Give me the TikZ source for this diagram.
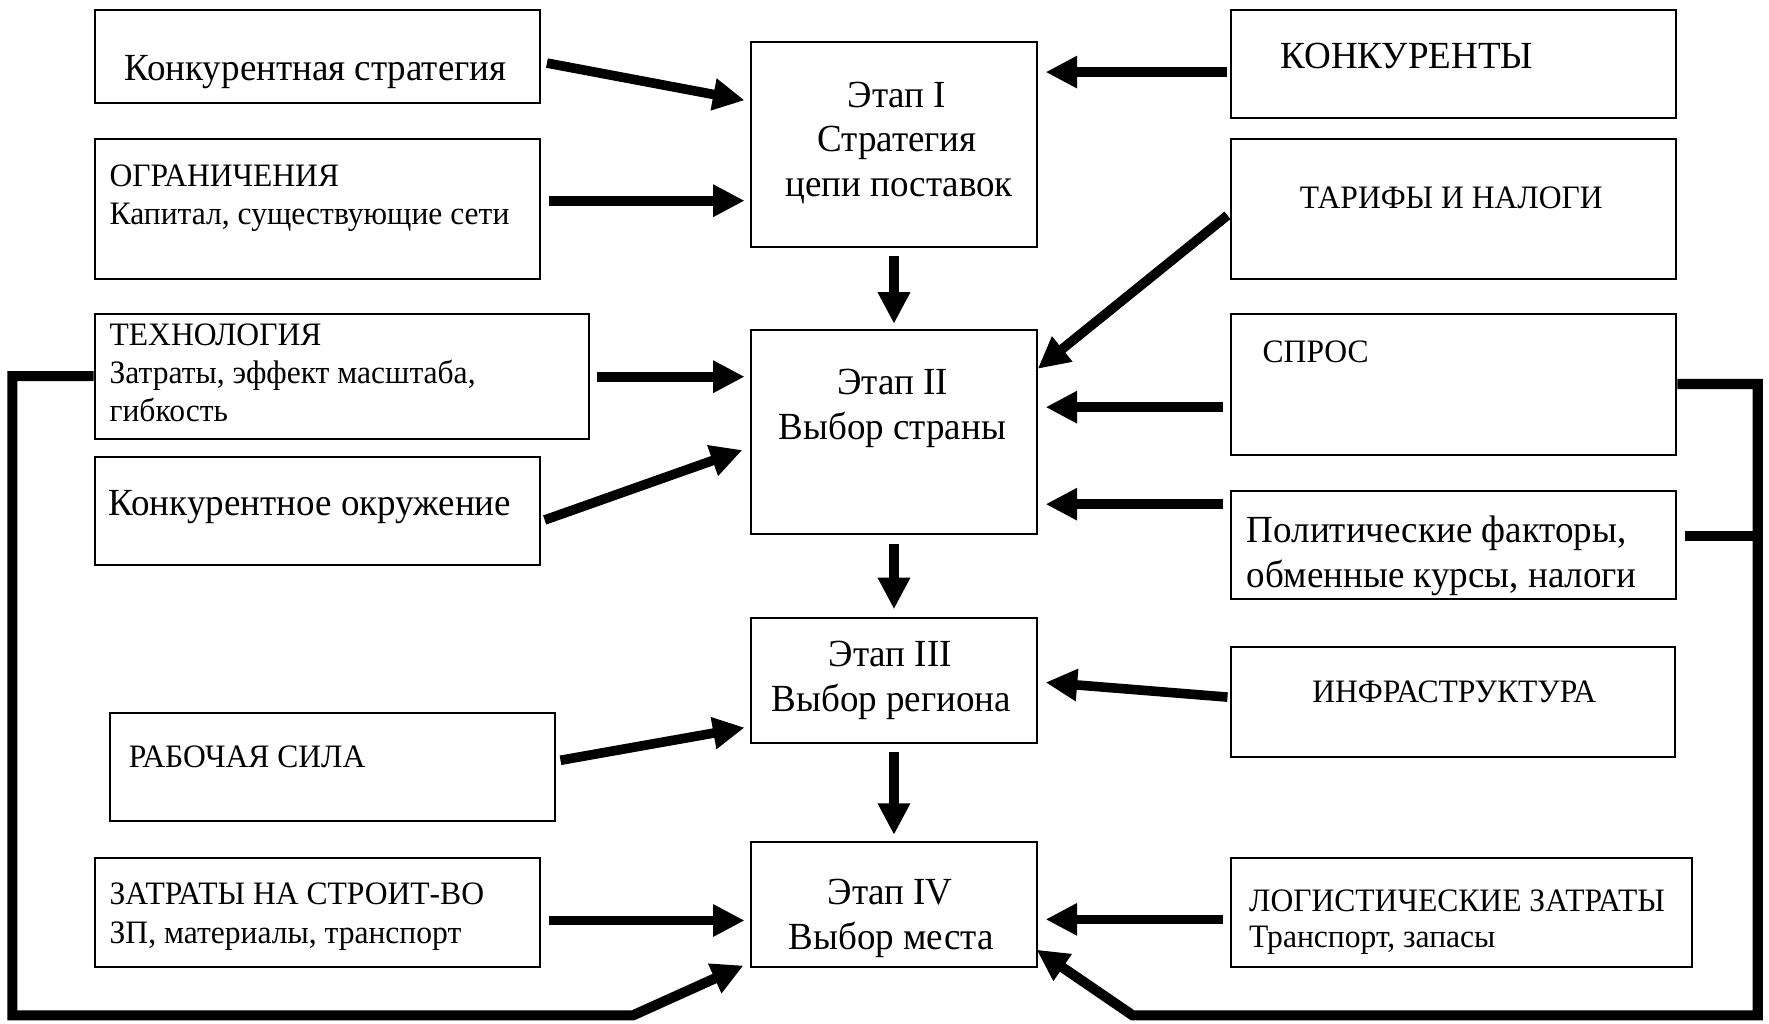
\documentclass[tikz,border=0pt]{standalone}
\usepackage{fontspec}
\setmainfont{Liberation Serif}[FakeStretch=0.965]
\usetikzlibrary{arrows.meta,calc}
\newcommand\Lf{\fontsize{34}{40}\selectfont}
\newcommand\Sf{\fontsize{29}{34}\selectfont}
\begin{document}
\begin{tikzpicture}[x=1pt,y=-1pt,
  box/.style={draw, line width=1.8pt, inner sep=0pt, anchor=north west},
  lt/.style={inner sep=0pt, anchor=base west},
  ct/.style={inner sep=0pt, anchor=base},
  arr/.style={line width=8.5pt, -{Triangle[length=28pt,width=27pt]}},
  fb/.style={line width=9pt, line join=miter, -{Triangle[length=28pt,width=27pt]}},
  fl/.style={line width=9pt, line join=miter}]
\useasboundingbox (0,0) rectangle (1568,907);
% left boxes
\node[box, minimum width=395pt, minimum height=82pt] (K1) at (83,8) {};
\node[box, minimum width=395pt, minimum height=124pt] (K2) at (83,122) {};
\node[box, minimum width=438pt, minimum height=111pt] (K3) at (83,277) {};
\node[box, minimum width=395pt, minimum height=96pt] (K4) at (83,404) {};
\node[box, minimum width=394pt, minimum height=96pt] (K5) at (97,631) {};
\node[box, minimum width=395pt, minimum height=96pt] (K6) at (83,760) {};
% centre boxes
\node[box, minimum width=253pt, minimum height=182pt] (E1) at (665,36) {};
\node[box, minimum width=253pt, minimum height=180pt] (E2) at (665,292) {};
\node[box, minimum width=253pt, minimum height=111pt] (E3) at (665,547) {};
\node[box, minimum width=253pt, minimum height=111pt] (E4) at (665,745) {};
% right boxes
\node[box, minimum width=395pt, minimum height=96pt] (R1) at (1090,8) {};
\node[box, minimum width=395pt, minimum height=124pt] (R2) at (1090,122) {};
\node[box, minimum width=395pt, minimum height=125pt] (R3) at (1090,277) {};
\node[box, minimum width=395pt, minimum height=96pt] (R4) at (1090,434) {};
\node[box, minimum width=394pt, minimum height=97pt] (R5) at (1090,573) {};
\node[box, minimum width=409pt, minimum height=96pt] (R6) at (1090,760) {};
% texts
\node[lt] (tK1) at (110,71) {\Lf Конкурентная стратегия};
\node[lt] (tK2a) at (97,165) {\Sf ОГРАНИЧЕНИЯ};
\node[lt] (tK2b) at (97,199) {\Sf Капитал, существующие сети};
\node[lt] (tK3a) at (97,306) {\Sf ТЕХНОЛОГИЯ};
\node[lt] (tK3b) at (97,340) {\Sf Затраты, эффект масштаба,};
\node[lt] (tK3c) at (97,374) {\Sf гибкость};
\node[lt] (tK4) at (96,457) {\Lf Конкурентное окружение};
\node[lt] (tK5) at (114,680) {\Sf РАБОЧАЯ СИЛА};
\node[lt] (tK6a) at (97,802) {\Sf ЗАТРАТЫ НА СТРОИТ-ВО};
\node[lt] (tK6b) at (97,836) {\Sf ЗП, материалы, транспорт};
\node[ct] (tE1a) at (795,95) {\Lf Этап I};
\node[ct] (tE1b) at (795,134) {\Lf Стратегия};
\node[ct] (tE1c) at (797,174) {\Lf цепи поставок};
\node[ct] (tE2a) at (791,350) {\Lf Этап II};
\node[ct] (tE2b) at (791,390) {\Lf Выбор страны};
\node[ct] (tE3a) at (789,591) {\Lf Этап III};
\node[ct] (tE3b) at (790,631) {\Lf Выбор региона};
\node[ct] (tE4a) at (789,802) {\Lf Этап IV};
\node[ct] (tE4b) at (790,842) {\Lf Выбор места};
\node[lt] (tR1) at (1135,61) {\Lf КОНКУРЕНТЫ};
\node[lt] (tR2) at (1152,185) {\Sf ТАРИФЫ И НАЛОГИ};
\node[lt] (tR3) at (1119,321) {\Sf СПРОС};
\node[lt] (tR4a) at (1105,481) {\Lf Политические факторы,};
\node[lt] (tR4b) at (1105,521) {\Lf обменные курсы, налоги};
\node[lt] (tR5) at (1163,623) {\Sf ИНФРАСТРУКТУРА};
\node[lt] (tR6a) at (1107,808) {\Sf ЛОГИСТИЧЕСКИЕ ЗАТРАТЫ};
\node[lt] (tR6b) at (1107,840) {\Sf Транспорт, запасы};
% arrows
\draw[arr] ($(K1.east)+(5,6)$) -- ($(E1.west)+(-5,-39)$);
\draw[arr] ($(K2.east)+(7,-7)$) -- ($(E1.west)+(-5,50)$);
\draw[arr] ($(K3.east)+(6,0.5)$) -- ($(E2.west)+(-5,-49)$);
\draw[arr] ($(K4.east)+(3,8)$) -- ($(E2.west)+(-7,16)$);
\draw[arr] ($(R1.west)+(-2,7)$) -- ($(E1.east)+(7,-64)$);
\draw[arr] ($(R2.west)+(-2,6)$) -- ($(E2.east)+(0,-56)$);
\draw[arr] ($(R3.west)+(-6,20.5)$) -- ($(E2.east)+(7,-22)$);
\draw[arr] ($(R4.west)+(-6,-36)$) -- ($(E2.east)+(7,64)$);
\draw[arr] ($(R5.west)+(-2,-4.5)$) -- ($(E3.east)+(7,1.5)$);
\draw[arr] ($(K5.east)+(4,-6)$) -- ($(E3.west)+(-5,41.5)$);
\draw[arr] ($(K6.east)+(7,7)$) -- ($(E4.west)+(-5,14.5)$);
\draw[arr] ($(R6.west)+(-6,6)$) -- ($(E4.east)+(7,13.5)$);
\draw[arr] ($(E1.south)+(0,7)$) -- ($(E2.north)+(0,-5)$);
\draw[arr] ($(E2.south)+(0,8)$) -- ($(E3.north)+(0,-7)$);
\draw[arr] ($(E3.south)+(0,7)$) -- ($(E4.north)+(0,-5)$);
% feedback loops
\coordinate (LB) at (11,900);
\coordinate (LC) at (561,900);
\coordinate (RB) at (1558,900);
\coordinate (RC) at (1004,900);
\draw[fb] (K3.west) -| (LB) -- (LC) -- ($(E4.south west)+(-6,-2)$);
\draw[fb] (R3.east) -| (RB) -- (RC) -- ($(E4.south east)+(-1,-16)$);
\draw[fl] ($(R4.east)+(7,-8)$) -- ($(R4.east -| RB)+(0,-8)$);
\end{tikzpicture}
\end{document}
